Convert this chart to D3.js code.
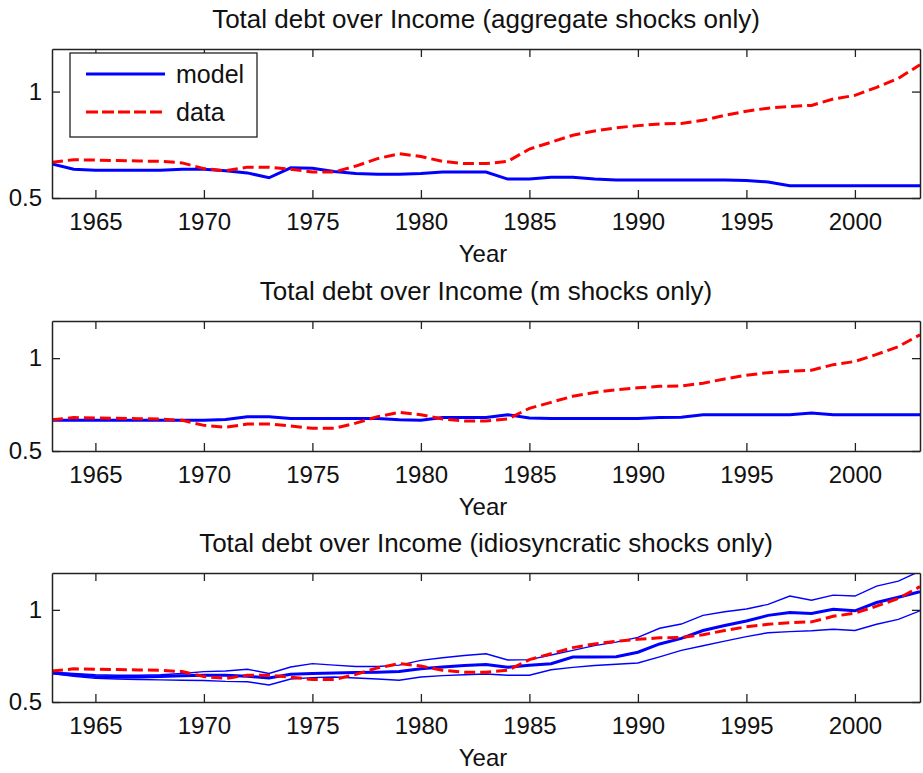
<!DOCTYPE html>
<html>
<head>
<meta charset="utf-8">
<script src="https://cdn.jsdelivr.net/npm/d3@7"></script>
<style>
  html, body { margin: 0; padding: 0; background: #fff; }
  svg { display: block; }
  text { font-family: "Liberation Sans", Arial, Helvetica, sans-serif; fill: #111; }
</style>
</head>
<body>
<svg id="chart" width="923" height="773"></svg>
<script>
// ---------------- DATA ----------------
const years = d3.range(1963, 2004);
const xTicks = [1965, 1970, 1975, 1980, 1985, 1990, 1995, 2000];
const yTicks = [0.5, 1];
const titles = [
  "Total debt over Income (aggregate shocks only)",
  "Total debt over Income (m shocks only)",
  "Total debt over Income (idiosyncratic shocks only)"
];
const xLabel = "Year";
const legendLabels = ["model", "data"];

// observed data (same in each panel)
const dataSeries = [0.668,0.680,0.678,0.676,0.674,0.672,0.665,0.638,0.628,0.645,
  0.645,0.635,0.622,0.622,0.650,0.685,0.708,0.695,0.672,0.662,
  0.662,0.672,0.730,0.762,0.795,0.815,0.830,0.840,0.848,0.850,
  0.865,0.888,0.908,0.922,0.930,0.935,0.965,0.982,1.020,1.062,1.126];

// model, aggregate shocks only
const modelAggregate = [0.660,0.635,0.630,0.630,0.630,0.630,0.635,0.635,0.628,0.618,
  0.595,0.642,0.640,0.625,0.615,0.612,0.612,0.615,0.622,0.622,
  0.622,0.589,0.589,0.598,0.598,0.589,0.585,0.585,0.585,0.585,
  0.585,0.585,0.582,0.575,0.558,0.557,0.557,0.557,0.557,0.557,0.557];

// model, m shocks only
const modelM = [0.666,0.666,0.665,0.665,0.665,0.665,0.665,0.665,0.670,0.685,
  0.685,0.675,0.675,0.675,0.675,0.675,0.668,0.665,0.680,0.680,
  0.680,0.695,0.678,0.675,0.675,0.675,0.675,0.675,0.680,0.682,
  0.695,0.695,0.695,0.695,0.695,0.705,0.695,0.695,0.695,0.695,0.695];

// model, idiosyncratic shocks only: median and bands
const modelIdio = [0.658,0.648,0.638,0.636,0.636,0.638,0.642,0.645,0.645,0.640,
  0.630,0.650,0.655,0.658,0.660,0.662,0.665,0.680,0.690,0.698,
  0.704,0.688,0.700,0.708,0.744,0.744,0.746,0.770,0.815,0.845,
  0.888,0.915,0.940,0.970,0.985,0.980,1.003,0.995,1.040,1.068,1.098];
const modelIdioUpper = [0.662,0.655,0.648,0.645,0.645,0.648,0.655,0.665,0.668,0.678,
  0.655,0.690,0.708,0.700,0.693,0.693,0.700,0.726,0.740,0.752,
  0.762,0.728,0.730,0.755,0.780,0.806,0.825,0.851,0.900,0.923,
  0.970,0.990,1.005,1.030,1.075,1.052,1.080,1.075,1.129,1.156,1.210];
const modelIdioLower = [0.654,0.640,0.628,0.625,0.622,0.620,0.618,0.617,0.612,0.610,
  0.592,0.625,0.632,0.636,0.630,0.625,0.618,0.636,0.643,0.648,
  0.652,0.645,0.645,0.675,0.688,0.698,0.705,0.712,0.745,0.780,
  0.805,0.830,0.855,0.876,0.882,0.887,0.895,0.888,0.922,0.948,0.995];

// ---------------- LAYOUT ----------------
const svg = d3.select("#chart");
const left = 52, right = 920;
const panels = [
  { top: 49,  bottom: 198, model: [modelAggregate], thin: [], legend: true },
  { top: 321, bottom: 451, model: [modelM], thin: [], legend: false },
  { top: 573, bottom: 702, model: [modelIdio], thin: [modelIdioUpper, modelIdioLower], legend: false }
];

const x = d3.scaleLinear().domain([1963, 2003]).range([left, right]);
const BLUE = "#0000ff", RED = "#ff0000";
const DASH = "11,5";

panels.forEach((p, i) => {
  const y = d3.scaleLinear().domain([0.5, 1.2]).range([p.bottom, p.top]);
  const g = svg.append("g");

  const clipId = "clip" + i;
  svg.append("clipPath").attr("id", clipId).append("rect")
    .attr("x", left).attr("y", p.top).attr("width", right - left).attr("height", p.bottom - p.top);

  const line = d3.line().x((d, j) => x(years[j])).y(d => y(d));
  const plot = g.append("g").attr("clip-path", `url(#${clipId})`);

  p.thin.forEach(s => {
    plot.append("path").datum(s).attr("d", line)
      .attr("fill", "none").attr("stroke", BLUE).attr("stroke-width", 1.4);
  });
  p.model.forEach(s => {
    plot.append("path").datum(s).attr("d", line)
      .attr("fill", "none").attr("stroke", BLUE).attr("stroke-width", 3);
  });
  plot.append("path").datum(dataSeries).attr("d", line)
    .attr("fill", "none").attr("stroke", RED).attr("stroke-width", 3)
    .attr("stroke-dasharray", DASH);

  // axes (ticks inside, MATLAB style)
  const axB = g.append("g").attr("transform", `translate(0,${p.bottom})`)
    .call(d3.axisBottom(x).tickValues(xTicks).tickFormat(d3.format("d"))
      .tickSizeInner(-8).tickSizeOuter(0).tickPadding(15));
  const axT = g.append("g").attr("transform", `translate(0,${p.top})`)
    .call(d3.axisTop(x).tickValues(xTicks).tickFormat("")
      .tickSizeInner(-8).tickSizeOuter(0));
  const axL = g.append("g").attr("transform", `translate(${left},0)`)
    .call(d3.axisLeft(y).tickValues(yTicks).tickFormat(d => d === 1 ? "1" : d3.format(".1f")(d))
      .tickSizeInner(-8).tickSizeOuter(0).tickPadding(10));
  const axR = g.append("g").attr("transform", `translate(${right},0)`)
    .call(d3.axisRight(y).tickValues(yTicks).tickFormat("")
      .tickSizeInner(-8).tickSizeOuter(0));

  [axB, axT, axL, axR].forEach(a => {
    a.selectAll("path.domain").attr("stroke", "#222").attr("stroke-width", 1.5);
    a.selectAll(".tick line").attr("stroke", "#222").attr("stroke-width", 1.3);
    a.selectAll("text").attr("font-size", 24).attr("fill", "#111")
      .attr("font-family", '"Liberation Sans", Arial, sans-serif');
  });

  // title and x label
  svg.append("text").attr("x", (left + right) / 2).attr("y", p.top - 21)
    .attr("text-anchor", "middle").attr("font-size", 26).text(titles[i]);
  svg.append("text").attr("x", (left + right) / 2 - 3).attr("y", p.bottom + 64)
    .attr("text-anchor", "middle").attr("font-size", 24).text(xLabel);

  // legend
  if (p.legend) {
    const lg = svg.append("g");
    lg.append("rect").attr("x", 70).attr("y", 53).attr("width", 187).attr("height", 84)
      .attr("fill", "#fff").attr("stroke", "#222").attr("stroke-width", 1.3);
    lg.append("line").attr("x1", 86).attr("x2", 165).attr("y1", 74).attr("y2", 74)
      .attr("stroke", BLUE).attr("stroke-width", 3);
    lg.append("line").attr("x1", 86).attr("x2", 165).attr("y1", 112).attr("y2", 112)
      .attr("stroke", RED).attr("stroke-width", 3).attr("stroke-dasharray", "12,4");
    lg.append("text").attr("x", 176).attr("y", 83).attr("font-size", 25).text(legendLabels[0]);
    lg.append("text").attr("x", 176).attr("y", 121).attr("font-size", 25).text(legendLabels[1]);
  }
});
</script>
</body>
</html>
